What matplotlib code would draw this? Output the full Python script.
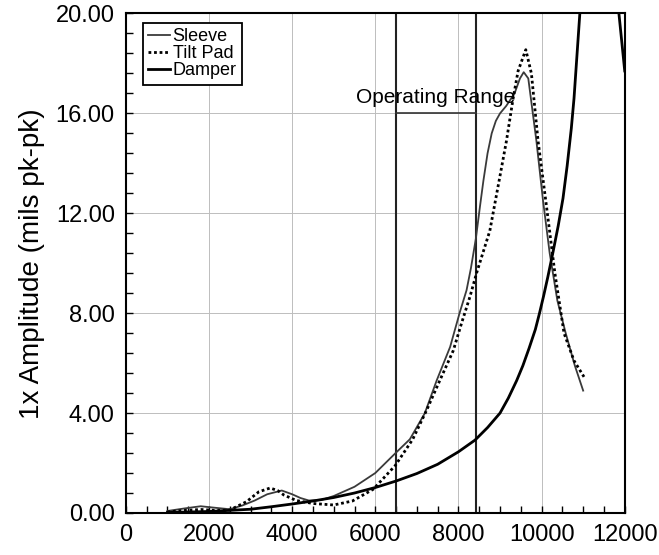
import numpy as np
import matplotlib
matplotlib.use("Agg")
import matplotlib.pyplot as plt
from matplotlib.ticker import MultipleLocator, FormatStrFormatter

plt.rcParams['font.family'] = ['Liberation Sans', 'DejaVu Sans']

# speed (rpm) and 1x amplitude (mils pk-pk)
sleeve_x = [1000, 1400, 1800, 2200, 2500, 2800, 3100, 3400, 3750, 4000, 4200, 4400,
            4700, 5000, 5500, 6000, 6500, 6830, 7190, 7475, 7800, 8035, 8195, 8300,
            8420, 8520, 8600, 8700, 8800, 8900, 9000, 9150, 9350, 9480, 9570, 9680,
            9875, 10035, 10195, 10380, 10580, 10800, 11000]
sleeve_y = [0.08, 0.18, 0.27, 0.2, 0.15, 0.3, 0.5, 0.75, 0.9, 0.75, 0.6, 0.5,
            0.52, 0.68, 1.05, 1.6, 2.42, 2.95, 3.99, 5.3, 6.65, 8.05, 8.92, 9.8,
            11.0, 12.3, 13.3, 14.4, 15.2, 15.7, 16.0, 16.3, 16.8, 17.4, 17.65, 17.4,
            14.9, 12.5, 10.4, 8.5, 7.2, 5.9, 4.9]

tilt_x = [1000, 1400, 1800, 2200, 2500, 2900, 3200, 3470, 3650, 3800, 4100, 4500,
          5000, 5450, 5950, 6480, 6900, 7230, 7550, 7875, 8075, 8275, 8435, 8755,
          9000, 9155, 9315, 9435, 9620, 9755, 9915, 10120, 10320, 10540, 10780, 11020]
tilt_y = [0.04, 0.1, 0.14, 0.1, 0.12, 0.45, 0.85, 1.0, 0.9, 0.72, 0.5, 0.38,
          0.32, 0.48, 0.95, 1.9, 2.95, 4.1, 5.3, 6.5, 7.6, 8.65, 9.6, 11.3,
          13.5, 14.9, 16.6, 17.7, 18.55, 17.6, 14.9, 12.25, 9.6, 7.2, 6.1, 5.45]

damper_x = [1000, 2000, 3000, 3500, 4000, 4500, 5000, 5500, 6000, 6500, 7000, 7500,
            8000, 8400, 8700, 9000, 9200, 9400, 9550, 9700, 9850, 9950, 10050, 10150,
            10275, 10400, 10515, 10615, 10715, 10780, 10850, 10920, 11100, 11450,
            11700, 11860, 12000]
damper_y = [0.02, 0.06, 0.15, 0.25, 0.36, 0.48, 0.62, 0.8, 1.02, 1.28, 1.58, 1.95,
            2.45, 2.92, 3.42, 4.0, 4.6, 5.3, 5.9, 6.6, 7.35, 8.0, 8.7, 9.45,
            10.45, 11.5, 12.6, 13.9, 15.4, 16.6, 18.3, 20.0, 22.5, 25.0,
            23.0, 20.0, 17.7]

op_range = [6500, 8420]

fig = plt.figure(figsize=(6.59, 5.55), dpi=100)
ax = fig.add_axes([0.191, 0.0757, 0.757, 0.9])

ax.grid(True, which='major', color='#bdbdbd', lw=0.7)
ax.set_axisbelow(True)

ax.plot(sleeve_x, sleeve_y, color='#3a3a3a', lw=1.3, label='Sleeve', zorder=3)
ax.plot(tilt_x, tilt_y, color='black', lw=2.0, linestyle=(0, (1, 1)), label='Tilt Pad', zorder=3)
ax.plot(damper_x, damper_y, color='black', lw=2.0, label='Damper', zorder=3)

for xv in op_range:
    ax.axvline(xv, color='#222222', lw=1.5, zorder=2)
ax.plot(op_range, [16, 16], color='#333333', lw=1.2, zorder=2)
ax.text(7455, 16.64, 'Operating Range', ha='center', va='center', fontsize=15, zorder=4)

ax.set_xlim(0, 12000)
ax.set_ylim(0, 20)
ax.xaxis.set_major_locator(MultipleLocator(2000))
ax.xaxis.set_minor_locator(MultipleLocator(500))
ax.yaxis.set_major_locator(MultipleLocator(4))
ax.yaxis.set_minor_locator(MultipleLocator(0.8))
ax.yaxis.set_major_formatter(FormatStrFormatter('%.2f'))
ax.tick_params(which='both', direction='in', labelsize=17, top=False, right=False)
ax.tick_params(which='major', length=5, width=1, pad=8)
ax.tick_params(which='minor', length=5, width=1)
for s in ax.spines.values():
    s.set_linewidth(1.5)

ax.set_ylabel('1x Amplitude (mils pk-pk)', fontsize=20, labelpad=8)

leg = ax.legend(loc='upper left', bbox_to_anchor=(0.034, 0.981), borderaxespad=0,
                fontsize=13, handlelength=1.2, handletextpad=0.15, labelspacing=0.0,
                borderpad=0.3, fancybox=False, framealpha=1, edgecolor='black')
leg.get_frame().set_linewidth(1.3)

fig.savefig('out.png', dpi=100)
